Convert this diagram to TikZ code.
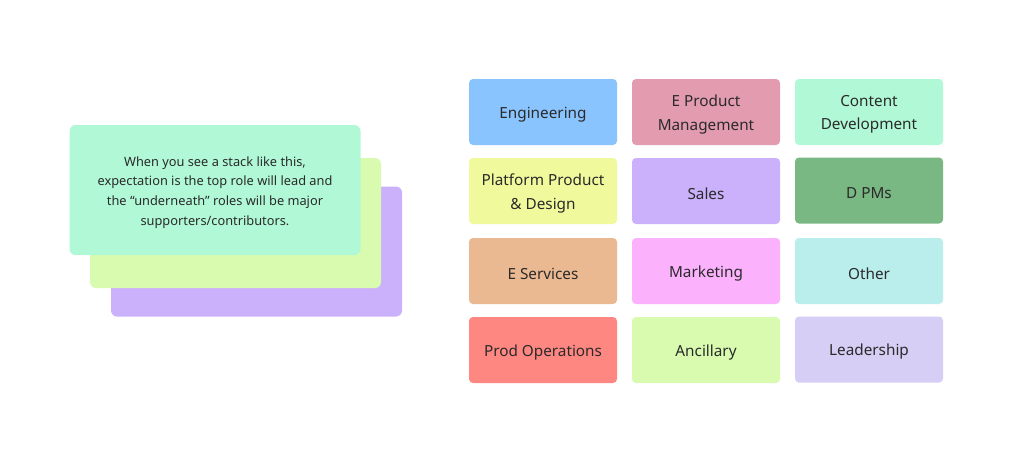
\documentclass[tikz,border=0pt]{standalone}
\usepackage{fontspec}
\setmainfont{Noto Sans}
\usetikzlibrary{positioning}

% Colours of the cards
\definecolor{txtgray}{HTML}{2A2A2A}
\definecolor{engblue}{HTML}{8AC4FF}
\definecolor{prodpink}{HTML}{E39BB0}
\definecolor{mint}{HTML}{B1F9D6}
\definecolor{lemon}{HTML}{F0FA9C}
\definecolor{lilac}{HTML}{CBB1FB}
\definecolor{dgreen}{HTML}{7AB883}
\definecolor{tan}{HTML}{EBB991}
\definecolor{pinkmag}{HTML}{FBB1FB}
\definecolor{aqua}{HTML}{BAEEEC}
\definecolor{salmon}{HTML}{FF8782}
\definecolor{lime}{HTML}{D9FBAF}
\definecolor{lavender}{HTML}{D6CEF5}

\tikzset{
    role/.style={rectangle, rounded corners=4pt, minimum width=148pt, minimum height=66pt,
        inner sep=0pt},
    roletext/.style={align=center, text=txtgray, yshift=-2.5pt,
        font=\fontsize{15.3}{23.5}\selectfont},
    card/.style={rectangle, rounded corners=6pt, minimum width=291pt, minimum height=130pt,
        inner sep=0pt},
    cardtext/.style={align=center, text=txtgray, yshift=-2.5pt,
        font=\fontsize{12.8}{19.7}\selectfont}
}

\begin{document}
\begin{tikzpicture}[x=1pt, y=-1pt]

    % Canvas
    \useasboundingbox[fill=white] (0,0) rectangle (1024,448);

    % Dimensions
    \def\colA{543}   % centre of first column
    \def\colB{706}   % centre of second column
    \def\colC{869}   % centre of third column

    % The stack of cards on the left (back to front)
    \node[card, fill=lilac] (stackback) at (256.5,251.5) {};
    \node[card, fill=lime] (stackmid) at (235.5,223) {};
    \node[card, fill=mint] (stacktop) at (215,190) {};
    \node[cardtext] (stacknote) at (stacktop.center)
        {When you see a stack like this,\\expectation is the top role will lead and\\
         the “underneath” roles will be major\\supporters/contributors.};

    % Grid of roles
    \foreach \name/\x/\y/\c/\txt in {
        eng/\colA/112/engblue/Engineering,
        eprod/\colB/112/prodpink/{E Product\\Management},
        content/\colC/112/mint/{Content\\Development},
        platform/\colA/191/lemon/{Platform Product\\\& Design},
        sales/\colB/191/lilac/Sales,
        dpms/\colC/190.5/dgreen/D PMs,
        eserv/\colA/271/tan/E Services,
        marketing/\colB/271/pinkmag/Marketing,
        other/\colC/271/aqua/Other,
        prodops/\colA/350/salmon/Prod Operations,
        ancillary/\colB/350/lime/Ancillary,
        leadership/\colC/349.5/lavender/Leadership} {
        \node[role, fill=\c] (\name) at (\x,\y) {};
        \node[roletext] (\name-label) at (\name.center) {\txt};
    }

\end{tikzpicture}
\end{document}
